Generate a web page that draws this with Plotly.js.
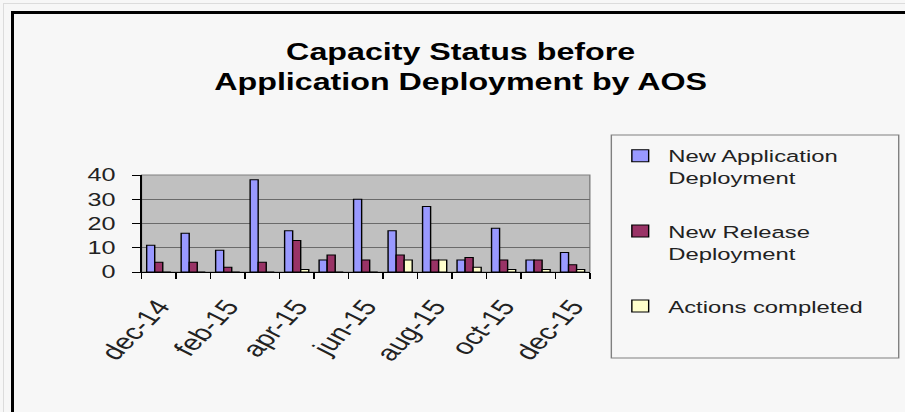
<!DOCTYPE html>
<html>
<head>
<meta charset="utf-8">
<script src="https://cdn.plot.ly/plotly-3.0.1.min.js"></script>
<style>
  html, body { margin: 0; padding: 0; background: #f7f7f7; }
  #wrap { position: relative; width: 905px; height: 412px; overflow: hidden; background: #f7f7f7; }
  #chart { position: absolute; left: 0; top: 0; width: 646px; height: 412px;
           transform: scaleX(1.401); transform-origin: 0 0; }
  #frame { position: absolute; left: 11px; top: 11px; right: -10px; bottom: -10px;
           border-top: 3px solid #000; border-left: 3px solid #000; pointer-events: none; }
  #shade { position: absolute; left: 3px; top: 3px; right: -10px; bottom: -10px;
           border-top: 1px solid #dcdcdc; border-left: 1px solid #dcdcdc; pointer-events: none; }
</style>
</head>
<body>
<div id="wrap">
  <div id="chart"></div>
  <div id="shade"></div>
  <div id="frame"></div>
</div>
<script>
// Monthly capacity status, Dec 2014 - Dec 2015
var months = ['dec-14', 'jan-15', 'feb-15', 'mar-15', 'apr-15', 'may-15', 'jun-15',
              'jul-15', 'aug-15', 'sep-15', 'oct-15', 'nov-15', 'dec-15'];
var monthLabels = ['dec-14', '', 'feb-15', '', 'apr-15', '', 'jun-15',
                   '', 'aug-15', '', 'oct-15', '', 'dec-15'];
var newApplication = [11, 16, 9, 38, 17, 5, 30, 17, 27, 5, 18, 5, 8];
var newRelease     = [4, 4, 2, 4, 13, 7, 5, 7, 5, 6, 5, 5, 3];
var actionsDone    = [0, 0, 0, 0, 1, 0, 0, 5, 5, 2, 1, 1, 1];
var yTicks = [0, 10, 20, 30, 40];

var font = 'Liberation Sans, Arial, sans-serif';
var outline = { color: '#000000', width: 1 };

function series(name, values, color, group) {
  return {
    type: 'bar', name: name, x: months, y: values, legendgroup: group,
    marker: { color: color, line: outline }, hoverinfo: 'skip'
  };
}

var data = [
  series('New Application<br>Deployment', newApplication, '#9999FF', 'a'),
  series('New Release<br>Deployment', newRelease, '#993366', 'b'),
  series('Actions completed', actionsDone, '#FFFFCC', 'c')
];

var layout = {
  width: 646, height: 412,
  margin: { l: 101, r: 225, t: 175, b: 140, pad: 0 },
  paper_bgcolor: '#f7f7f7',
  plot_bgcolor: '#C0C0C0',
  font: { family: font, color: '#000000' },
  barmode: 'group', bargap: 0.3, bargroupgap: 0,
  title: {
    text: '<b>Capacity Status before<br>Application Deployment by AOS</b>',
    font: { family: font, size: 23, color: '#000000' },
    xref: 'container', x: 0.509, xanchor: 'center',
    yref: 'container', y: 0.854, yanchor: 'top'
  },
  xaxis: {
    type: 'category', tickmode: 'array', tickvals: months, ticktext: monthLabels,
    tickson: 'boundaries', ticks: 'outside', ticklen: 6, tickcolor: '#000000',
    tickangle: -54.5, ticklabelstandoff: 12,
    tickfont: { family: font, size: 22, color: '#222222' },
    showline: true, linecolor: '#000000', linewidth: 1,
    showgrid: false, zeroline: false, fixedrange: true
  },
  yaxis: {
    range: [0, 40], tickmode: 'array', tickvals: yTicks,
    ticks: 'outside', ticklen: 6, tickcolor: '#000000', ticklabelstandoff: 8,
    tickfont: { family: font, size: 18, color: '#222222' },
    showline: true, linecolor: '#000000', linewidth: 1,
    showgrid: true, gridcolor: '#6a6a6a', gridwidth: 1,
    zeroline: false, fixedrange: true
  },
  showlegend: true,
  legend: {
    x: 1.05, xanchor: 'left', y: 1.38, yanchor: 'top',
    bgcolor: 'rgba(0,0,0,0)', borderwidth: 0,
    font: { family: font, size: 17, color: '#222222' },
    valign: 'top', tracegroupgap: 28, itemclick: false, itemdoubleclick: false
  },
  shapes: [
    { type: 'rect', xref: 'paper', yref: 'paper', x0: 0, x1: 1, y0: 0, y1: 1,
      line: { color: '#808080', width: 1 }, layer: 'below' },
    { type: 'rect', xref: 'paper', yref: 'paper', x0: 1.048, x1: 1.689, y0: -0.887, y1: 1.412,
      line: { color: '#808080', width: 1 }, fillcolor: 'rgba(0,0,0,0)' }
  ]
};

Plotly.newPlot('chart', data, layout, { staticPlot: true, displayModeBar: false });
</script>
</body>
</html>
